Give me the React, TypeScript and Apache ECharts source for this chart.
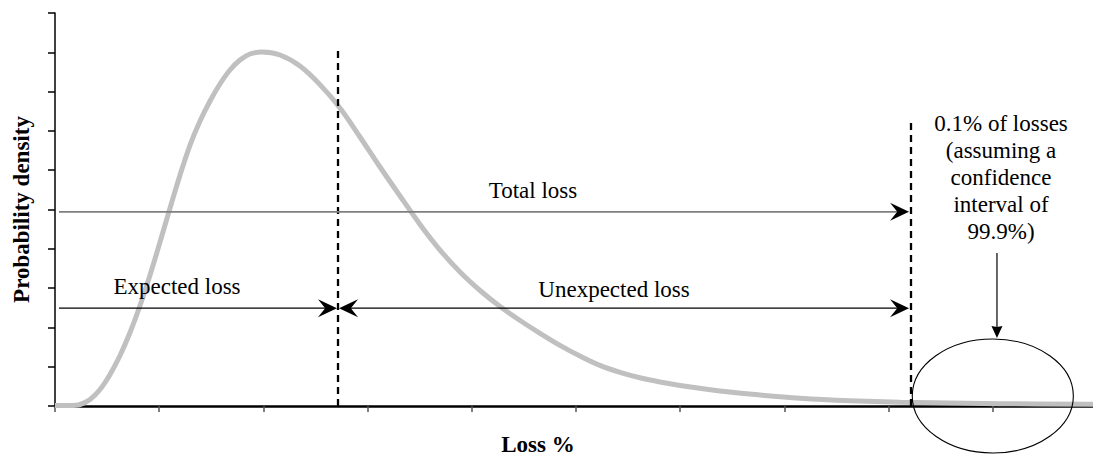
import React, { useEffect, useRef } from "react";
import * as echarts from "echarts";

// Loss % (x, in axis units) and probability density (y, in axis units)
const lossPct = [
  0, 0.144, 0.24, 0.336, 0.432, 0.528, 0.624, 0.72, 0.816, 0.912, 1.008, 1.104, 1.2, 1.296, 1.392, 1.488, 1.583, 1.679, 1.775, 1.871, 1.987,
  2.159, 2.351, 2.543, 2.735, 2.927, 3.119, 3.311, 3.503, 3.695, 3.887, 4.079, 4.271, 4.463, 4.655, 4.846, 5.038, 5.23, 5.422, 5.614, 5.806, 5.998,
  6.382, 6.766, 7.15, 7.63, 8.109, 9.069, 9.962,
];
const density = [
  0.013, 0.013, 0.038, 0.165, 0.42, 0.802, 1.285, 1.87, 2.557, 3.333, 4.173, 5.038, 5.878, 6.641, 7.252, 7.761, 8.193, 8.55, 8.804, 8.957, 9.008,
  8.931, 8.651, 8.178, 7.583, 6.845, 6.081, 5.344, 4.621, 3.969, 3.41, 2.939, 2.532, 2.176, 1.85, 1.544, 1.272, 1.033, 0.855, 0.718, 0.611, 0.524,
  0.382, 0.28, 0.198, 0.135, 0.097, 0.059, 0.046,
];

// Axis ranges (ticks every unit)
const X_MAX = 10;
const Y_MAX = 10;

// Expected loss and VaR (99.9%) thresholds, in axis units
const expectedLossX = 2.716;
const varX = 8.215;
const dashedTops = [9.06, 7.28];

// Arrow bands (y levels in axis units)
const totalLossY = 4.94;
const expectedLossY = 2.49;

const labelTexts = ["Total loss", "Expected loss", "Unexpected loss", "0.1% of losses\n(assuming a\nconfidence\ninterval of\n99.9%)"];
const labelX = [4.587, 1.171, 5.365, 9.079];
const labelY = [5.471, 3.028, 2.977, 5.802];

// Tail region (ellipse) in axis units
const tailCenter = [9.0, 0.254];
const tailRadius = [0.773, 1.45];
const pointerX = 9.04;
const pointerFromY = 3.893;
const pointerToY = 1.73;

const FONT = "'Times New Roman', 'Liberation Serif', serif";

type Arrow = {
  x1: number; y1: number; x2: number; y2: number;
  start: boolean; end: boolean;
  lineColor: string; lineWidth: number;
  headL: number; headW: number; notch: number;
};

const arrows: Arrow[] = [
  { x1: 0.038, y1: totalLossY, x2: varX - 0.019, y2: totalLossY, start: false, end: true, lineColor: "#7f7f7f", lineWidth: 1.6, headL: 19, headW: 18, notch: 0.38 },
  { x1: 0.038, y1: expectedLossY, x2: expectedLossX - 0.01, y2: expectedLossY, start: false, end: true, lineColor: "#000", lineWidth: 1.2, headL: 19, headW: 18, notch: 0.38 },
  { x1: expectedLossX + 0.01, y1: expectedLossY, x2: varX - 0.019, y2: expectedLossY, start: true, end: true, lineColor: "#000", lineWidth: 1.2, headL: 19, headW: 18, notch: 0.38 },
  { x1: pointerX, y1: pointerFromY, x2: pointerX, y2: pointerToY, start: false, end: true, lineColor: "#000", lineWidth: 1.2, headL: 12, headW: 11, notch: 0.08 },
];

export default function App() {
  const ref = useRef<HTMLDivElement>(null);

  useEffect(() => {
    if (!ref.current) return;
    const chart = echarts.init(ref.current, undefined, { renderer: "svg" });

    const curve = lossPct.map((x, i) => [x, density[i]]);

    const option: any = {
      animation: false,
      backgroundColor: "#fff",
      grid: { left: 55, top: 13, right: -4, bottom: 50, containLabel: false, outerBoundsMode: "none" },
      xAxis: {
        type: "value",
        min: 0,
        max: X_MAX,
        interval: 1,
        axisLine: { show: true, onZero: false, lineStyle: { color: "#000", width: 2.5 } },
        axisTick: { show: true, length: 6, lineStyle: { color: "#555", width: 1.5 } },
        axisLabel: { show: false },
        splitLine: { show: false },
        name: "Loss %",
        nameLocation: "middle",
        nameGap: 27,
        nameTextStyle: { fontFamily: FONT, fontSize: 23, fontWeight: "bold", color: "#000", padding: [0, 76, 0, 0] },
      },
      yAxis: {
        type: "value",
        min: 0,
        max: Y_MAX,
        interval: 1,
        axisLine: { show: true, onZero: false, lineStyle: { color: "#000", width: 1.5 } },
        axisTick: { show: true, length: 7, lineStyle: { color: "#000", width: 1.5 } },
        axisLabel: { show: false },
        splitLine: { show: false },
        name: "Probability density",
        nameLocation: "middle",
        nameGap: 22,
        nameTextStyle: { fontFamily: FONT, fontSize: 23, fontWeight: "bold", color: "#000" },
      },
      series: [
        {
          type: "line",
          data: curve,
          symbol: "none",
          smooth: 0.35,
          lineStyle: { color: "#c0c0c0", width: 5 },
          z: 2,
        },
        {
          // dashed thresholds
          type: "custom",
          z: 4,
          data: [[expectedLossX, dashedTops[0]], [varX, dashedTops[1]]],
          encode: { x: 0, y: 1 },
          renderItem: (params: any, api: any) => {
            const x = api.value(0);
            const top = api.value(1);
            const p0 = api.coord([x, 0]);
            const p1 = api.coord([x, top]);
            return {
              type: "line",
              shape: { x1: p0[0], y1: p0[1], x2: p1[0], y2: p1[1] },
              style: { stroke: "#000", lineWidth: 2.3, lineDash: [7, 5] },
            };
          },
        },
        {
          // arrows
          type: "custom",
          z: 5,
          data: arrows.map((a) => [a.x1, a.y1, a.x2, a.y2]),
          encode: { x: [0, 2], y: [1, 3] },
          renderItem: (params: any, api: any) => {
            const a = arrows[params.dataIndex];
            const p1 = api.coord([a.x1, a.y1]);
            const p2 = api.coord([a.x2, a.y2]);
            const dx = p2[0] - p1[0];
            const dy = p2[1] - p1[1];
            const len = Math.hypot(dx, dy) || 1;
            const ux = dx / len, uy = dy / len;
            const nx = -uy, ny = ux;
            const L = a.headL, W = a.headW;
            const back = L * (1 - a.notch);
            const head = (tx: number, ty: number, sx: number, sy: number) => ({
              type: "polygon",
              shape: {
                points: [
                  [tx, ty],
                  [tx - L * sx + (W / 2) * nx, ty - L * sy + (W / 2) * ny],
                  [tx - back * sx, ty - back * sy],
                  [tx - L * sx - (W / 2) * nx, ty - L * sy - (W / 2) * ny],
                ],
              },
              style: { fill: "#000", stroke: "none" },
            });
            const children: any[] = [];
            const s = a.start ? [p1[0] + back * ux, p1[1] + back * uy] : p1;
            const e = a.end ? [p2[0] - back * ux, p2[1] - back * uy] : p2;
            children.push({
              type: "line",
              shape: { x1: s[0], y1: s[1], x2: e[0], y2: e[1] },
              style: { stroke: a.lineColor, lineWidth: a.lineWidth },
            });
            if (a.end) children.push(head(p2[0], p2[1], ux, uy));
            if (a.start) children.push(head(p1[0], p1[1], -ux, -uy));
            return { type: "group", children };
          },
        },
        {
          // tail ellipse
          type: "custom",
          z: 5,
          data: [[tailCenter[0], tailCenter[1], tailRadius[0], tailRadius[1]]],
          encode: { x: 0, y: 1 },
          renderItem: (params: any, api: any) => {
            const c = api.coord([api.value(0), api.value(1)]);
            const edge = api.coord([api.value(0) + api.value(2), api.value(1) + api.value(3)]);
            return {
              type: "ellipse",
              shape: { cx: c[0], cy: c[1], rx: Math.abs(edge[0] - c[0]), ry: Math.abs(edge[1] - c[1]) },
              style: { fill: "none", stroke: "#000", lineWidth: 1.1 },
            };
          },
        },
        {
          // labels
          type: "custom",
          z: 6,
          data: labelTexts.map((_, i) => [labelX[i], labelY[i]]),
          encode: { x: 0, y: 1 },
          renderItem: (params: any, api: any) => {
            const p = api.coord([api.value(0), api.value(1)]);
            return {
              type: "text",
              style: {
                text: labelTexts[params.dataIndex],
                x: p[0],
                y: p[1],
                align: "center",
                verticalAlign: "middle",
                fontFamily: FONT,
                fontSize: 23,
                lineHeight: 27,
                fill: "#000",
              },
            };
          },
        },
      ],
    };

    chart.setOption(option);
    return () => chart.dispose();
  }, []);

  return (
    <div
      ref={ref}
      style={{ position: "fixed", left: 0, top: 0, width: 1093, height: 456, background: "#fff" }}
    />
  );
}
